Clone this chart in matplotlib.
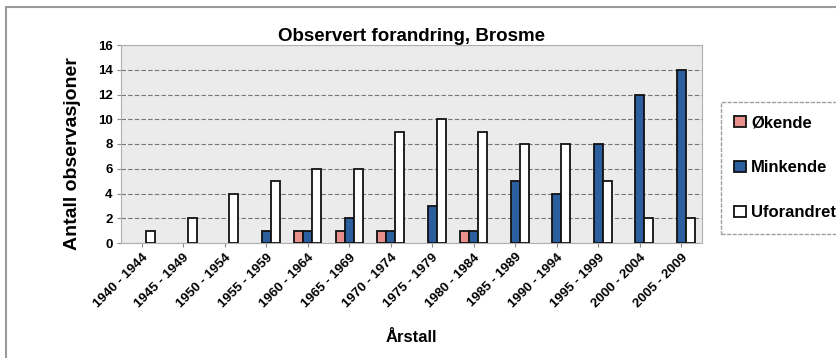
import matplotlib
matplotlib.use("Agg")
import matplotlib.pyplot as plt
import matplotlib.transforms as mtransforms
import numpy as np
from matplotlib.patches import Rectangle, Patch

plt.rcParams['font.family'] = ['Liberation Sans', 'DejaVu Sans']

periods = ["1940 - 1944", "1945 - 1949", "1950 - 1954", "1955 - 1959",
           "1960 - 1964", "1965 - 1969", "1970 - 1974", "1975 - 1979",
           "1980 - 1984", "1985 - 1989", "1990 - 1994", "1995 - 1999",
           "2000 - 2004", "2005 - 2009"]
okende = [0, 0, 0, 0, 1, 1, 1, 0, 1, 0, 0, 0, 0, 0]
minkende = [0, 0, 0, 1, 1, 2, 1, 3, 1, 5, 4, 8, 12, 14]
uforandret = [1, 2, 4, 5, 6, 6, 9, 10, 9, 8, 8, 5, 2, 2]

series = [("Økende", okende, "#e8908c"),
          ("Minkende", minkende, "#2c5f9e"),
          ("Uforandret", uforandret, "#ffffff")]

W, H = 837, 358
fig = plt.figure(figsize=(W / 100, H / 100), dpi=100)

# outer frame
fig.patches.append(Rectangle((6 / W, -0.1), 1.2, 1.1 - 7 / H, transform=fig.transFigure,
                             fill=False, edgecolor="#9a9a9a", linewidth=1.5))

left, right, top, bottom = 121, 702, 45, 243
ax = fig.add_axes([left / W, 1 - bottom / H, (right - left) / W, (bottom - top) / H])
ax.set_facecolor("#ebebeb")

x = np.arange(len(periods))
bw = 0.22
handles = []
for i, (name, vals, col) in enumerate(series):
    vals = np.asarray(vals)
    bars = ax.bar(x + (i - 1) * bw, vals, width=bw, color=col, edgecolor="#111111",
                  linewidth=1.3, zorder=3)
    # empty counts leave no visible mark
    for b, v in zip(bars, vals):
        if v == 0:
            b.set_visible(False)
    handles.append(Patch(facecolor=col, edgecolor="#111111", linewidth=1.3, label=name))

ax.set_xlim(-0.5, len(periods) - 0.5)
ax.set_ylim(0, 16)
ax.set_yticks(range(0, 17, 2))
ax.set_xticks(x)
ax.set_xticklabels(periods, rotation=45, ha="right", rotation_mode="anchor",
                   fontsize=9.5, fontweight="bold")
shift = mtransforms.ScaledTranslation(-9 / 100, -13 / 100, fig.dpi_scale_trans)
for lab in ax.get_xticklabels():
    lab.set_transform(lab.get_transform() + shift)
for lab in ax.get_yticklabels():
    lab.set_fontweight("bold")
    lab.set_fontsize(9.5)
ax.yaxis.grid(True, linestyle=(0, (4, 2)), color="#777777", linewidth=0.8, zorder=0)
for s in ax.spines.values():
    s.set_color("#b0b0b0")
ax.tick_params(axis="both", length=3, color="#888888", pad=3)

ax.set_title("Observert forandring, Brosme", fontsize=13.5, fontweight="bold", pad=3)
ax.set_ylabel("Antall observasjoner", fontsize=14, fontweight="bold")
ax.yaxis.set_label_coords((81 - left) / (right - left), (bottom - 154) / (bottom - top))
ax.set_xlabel("Årstall", fontsize=12, fontweight="bold")
ax.xaxis.set_label_coords(0.5, -(337 - bottom) / (bottom - top))
ax.xaxis.label.set_va("center")

leg = fig.legend(handles=handles, loc="upper left", bbox_to_anchor=(721 / W, 1 - 102 / H),
                 frameon=True, fancybox=False, prop={"weight": "bold", "size": 12},
                 handlelength=0.7, handleheight=0.7, handletextpad=0.3,
                 labelspacing=1.8, borderpad=0.8, borderaxespad=0)
leg.get_frame().set_edgecolor("#888888")
leg.get_frame().set_linestyle((0, (3, 1)))
leg.get_frame().set_linewidth(1.0)

fig.savefig("out.png", dpi=100)
